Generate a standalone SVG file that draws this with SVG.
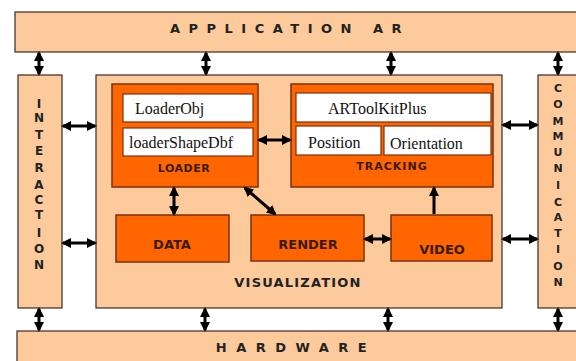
<svg xmlns="http://www.w3.org/2000/svg" width="576" height="361" viewBox="0 0 576 361">
<style>
.peach{fill:#FDCA9C;stroke:#3a2a20;stroke-width:1.2}
.orange{fill:#FF6600;stroke:#7a3010;stroke-width:1.5}
.white{fill:#ffffff;stroke:#7a3010;stroke-width:1.2}
.big{font-family:"DejaVu Sans",Verdana,sans-serif;font-weight:bold;fill:#222}
.lbl{font-family:"DejaVu Sans",Verdana,sans-serif;font-weight:bold;fill:#3a1a08}
.ser{font-family:"Liberation Serif","Times New Roman",serif;font-size:16px;fill:#111}
.vt{font-family:"DejaVu Sans",Verdana,sans-serif;font-weight:bold;fill:#222;text-anchor:middle}
.con{stroke:#000;stroke-width:3;fill:none}
</style>
<defs>
<marker id="ah" viewBox="0 0 10 10" refX="8" refY="5" markerWidth="10" markerHeight="10" markerUnits="userSpaceOnUse" orient="auto-start-reverse">
<path d="M0,0 L10,5 L0,10 z" fill="#000"/>
</marker>
</defs>
<rect width="576" height="361" fill="#fff"/>
<g id="application">
<rect class="peach" x="15" y="12" width="570" height="40"/>
<text class="big" x="290" y="33" font-size="13" letter-spacing="8.5" text-anchor="middle">APPLICATION AR</text>
</g>
<g id="hardware">
<rect class="peach" x="17" y="331" width="570" height="40"/>
<text class="big" x="296" y="352" font-size="13" letter-spacing="9.5" text-anchor="middle">HARDWARE</text>
</g>
<g id="interaction">
<rect class="peach" x="18" y="75" width="44" height="233"/>
<g class="vt" font-size="12">
<text x="39" y="108">I</text><text x="39" y="122">N</text><text x="39" y="139">T</text><text x="39" y="155">E</text><text x="39" y="172">R</text><text x="39" y="189">A</text><text x="39" y="204">C</text><text x="39" y="219">T</text><text x="39" y="237">I</text><text x="39" y="253">O</text><text x="39" y="269">N</text>
</g>
</g>
<g id="communication">
<rect class="peach" x="538" y="75" width="44" height="233"/>
<g class="vt" font-size="11">
<text x="558" y="92">C</text><text x="558" y="108">O</text><text x="558" y="125">M</text><text x="558" y="140">M</text><text x="558" y="156">U</text><text x="558" y="172">N</text><text x="558" y="189">I</text><text x="558" y="206">C</text><text x="558" y="221">A</text><text x="558" y="237">T</text><text x="558" y="253">I</text><text x="558" y="270">O</text><text x="558" y="286">N</text>
</g>
</g>
<g id="visualization">
<rect class="peach" x="96" y="75" width="406" height="233"/>
<text class="big" x="298" y="287" font-size="13" letter-spacing="1.2" text-anchor="middle">VISUALIZATION</text>
</g>
<g id="loader">
<rect class="orange" x="112" y="84" width="146" height="103"/>
<rect class="white" x="123" y="94" width="130" height="28"/>
<rect class="white" x="123" y="128" width="130" height="28"/>
<text class="ser" x="135" y="114">LoaderObj</text>
<text class="ser" x="129" y="148">loaderShapeDbf</text>
<text class="lbl" x="184" y="172" font-size="11" text-anchor="middle" letter-spacing="0.5">LOADER</text>
</g>
<g id="tracking">
<rect class="orange" x="291" y="84" width="202" height="103"/>
<rect class="white" x="296" y="93" width="195" height="29"/>
<rect class="white" x="296" y="126" width="85" height="29"/>
<rect class="white" x="384" y="126" width="107" height="29"/>
<text class="ser" x="328" y="114">ARToolKitPlus</text>
<text class="ser" x="308" y="148">Position</text>
<text class="ser" x="390" y="149">Orientation</text>
<text class="lbl" x="392" y="170" font-size="11" text-anchor="middle" letter-spacing="1">TRACKING</text>
</g>
<g id="data">
<rect class="orange" x="116" y="215" width="113" height="47"/>
<text class="lbl" x="172" y="249" font-size="13" text-anchor="middle">DATA</text>
</g>
<g id="render">
<rect class="orange" x="251" y="215" width="113" height="46"/>
<text class="lbl" x="308" y="249" font-size="13" text-anchor="middle">RENDER</text>
</g>
<g id="video">
<rect class="orange" x="391" y="215" width="101" height="46"/>
<text class="lbl" x="442" y="254" font-size="13" text-anchor="middle">VIDEO</text>
</g>
<g id="connectors" class="con">
<line x1="39" y1="53" x2="39" y2="74" marker-start="url(#ah)" marker-end="url(#ah)"/>
<line x1="206" y1="53" x2="206" y2="74" marker-start="url(#ah)" marker-end="url(#ah)"/>
<line x1="391" y1="53" x2="391" y2="74" marker-start="url(#ah)" marker-end="url(#ah)"/>
<line x1="558" y1="53" x2="558" y2="74" marker-start="url(#ah)" marker-end="url(#ah)"/>
<line x1="39" y1="309" x2="39" y2="330" marker-start="url(#ah)" marker-end="url(#ah)"/>
<line x1="205" y1="309" x2="205" y2="330" marker-start="url(#ah)" marker-end="url(#ah)"/>
<line x1="388" y1="309" x2="388" y2="330" marker-start="url(#ah)" marker-end="url(#ah)"/>
<line x1="558" y1="309" x2="558" y2="330" marker-start="url(#ah)" marker-end="url(#ah)"/>
<line x1="63" y1="126" x2="95" y2="126" marker-start="url(#ah)" marker-end="url(#ah)"/>
<line x1="63" y1="243" x2="95" y2="243" marker-start="url(#ah)" marker-end="url(#ah)"/>
<line x1="503" y1="125" x2="537" y2="125" marker-start="url(#ah)" marker-end="url(#ah)"/>
<line x1="503" y1="239" x2="537" y2="239" marker-start="url(#ah)" marker-end="url(#ah)"/>
<line x1="259" y1="140" x2="290" y2="140" marker-start="url(#ah)" marker-end="url(#ah)"/>
<line x1="365" y1="239" x2="390" y2="239" marker-start="url(#ah)" marker-end="url(#ah)"/>
<line x1="174" y1="188" x2="174" y2="214" marker-start="url(#ah)" marker-end="url(#ah)"/>
<line x1="245" y1="188" x2="275" y2="214" marker-start="url(#ah)" marker-end="url(#ah)"/>
<line x1="434" y1="214" x2="434" y2="188" marker-end="url(#ah)"/>
</g>
</svg>
